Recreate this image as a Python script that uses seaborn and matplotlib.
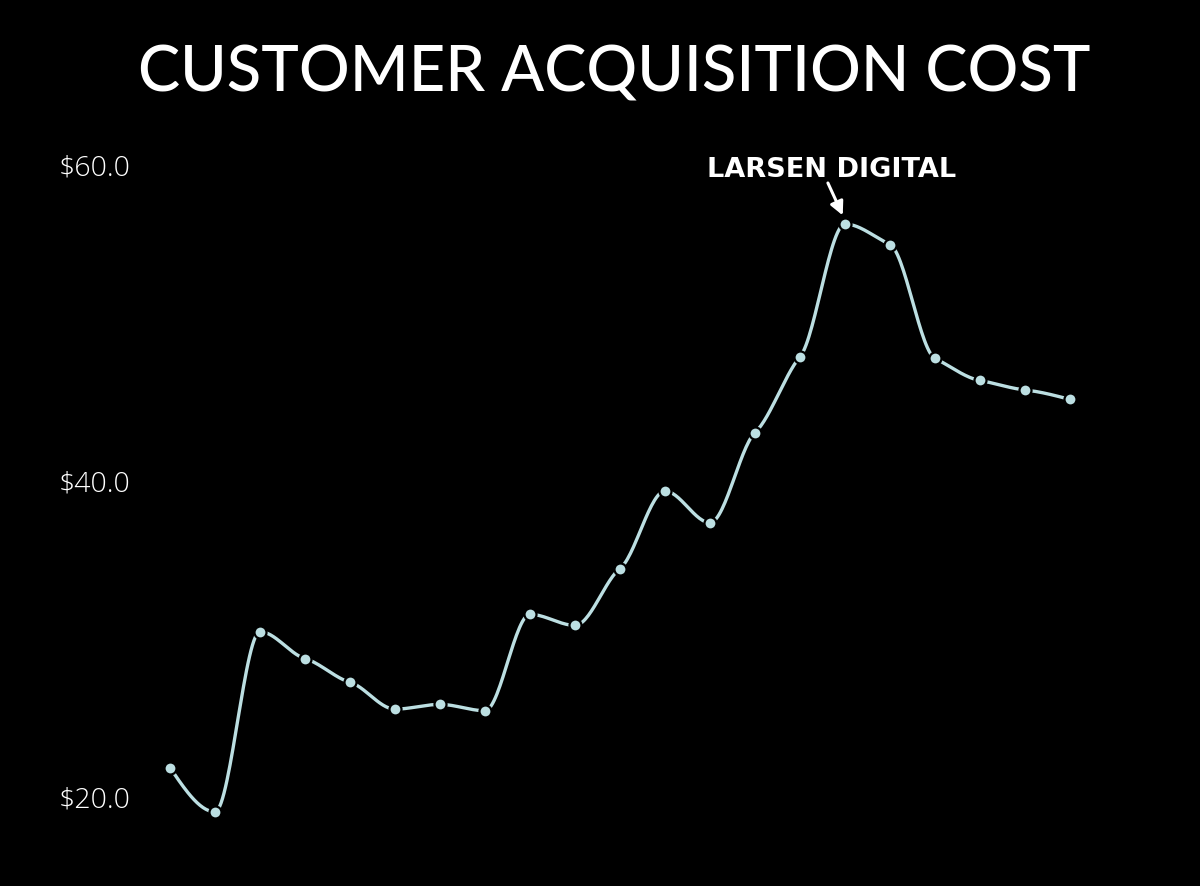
import numpy as np
import pandas as pd
import seaborn as sb
import matplotlib
matplotlib.use("Agg")
import matplotlib.pyplot as plt

# valores (21 puntos, sin etiquetas en x)
periods = list(range(21))
cac = [21.8, 19.0, 30.4, 28.7, 27.2, 25.5, 25.8, 25.4, 31.5, 30.8, 34.4,
       39.3, 37.3, 43.0, 47.8, 56.2, 54.9, 47.7, 46.3, 45.7, 45.1]
y_ticks = [20.0, 40.0, 60.0]
title = "CUSTOMER ACQUISITION COST"
peak_label = "LARSEN DIGITAL"

LINE_COLOR = "#bcdfe2"


def monotone_curve(x, y, steps=30):
    # curva monotona tipo d3 (Fritsch-Carlson) solo para dibujar
    x = np.asarray(x, dtype=float)
    y = np.asarray(y, dtype=float)
    h = np.diff(x)
    s = np.diff(y) / h
    m = np.zeros_like(y)
    for i in range(1, len(y) - 1):
        if s[i - 1] * s[i] <= 0:
            m[i] = 0
        else:
            p = (s[i - 1] * h[i] + s[i] * h[i - 1]) / (h[i - 1] + h[i])
            m[i] = np.sign(s[i]) * min(abs(s[i - 1]), abs(s[i]), 0.5 * abs(p))
    m[0] = (3 * s[0] - m[1]) / 2
    m[-1] = (3 * s[-1] - m[-2]) / 2
    xs, ys = [], []
    for i in range(len(x) - 1):
        t = np.linspace(0, 1, steps, endpoint=False)
        h00 = 2 * t ** 3 - 3 * t ** 2 + 1
        h10 = t ** 3 - 2 * t ** 2 + t
        h01 = -2 * t ** 3 + 3 * t ** 2
        h11 = t ** 3 - t ** 2
        xs.extend(x[i] + t * h[i])
        ys.extend(h00 * y[i] + h10 * h[i] * m[i] + h01 * y[i + 1] + h11 * h[i] * m[i + 1])
    xs.append(x[-1])
    ys.append(y[-1])
    return np.array(xs), np.array(ys)


sb.set_theme(style="dark", rc={"axes.facecolor": "black", "figure.facecolor": "black"})
plt.rcParams['font.family'] = ['Open Sans', 'DejaVu Sans']

fig = plt.figure(figsize=(12, 8.87), dpi=100)
ax = fig.add_axes([147.5 / 1200, 0.0658, 945 / 1200, 0.7838])

cx, cy = monotone_curve(periods, cac)
curve = pd.DataFrame({"x": cx, "y": cy})
points = pd.DataFrame({"x": periods, "y": cac})

sb.lineplot(data=curve, x="x", y="y", ax=ax, color=LINE_COLOR, linewidth=2.4, sort=False)
sb.scatterplot(data=points, x="x", y="y", ax=ax, color=LINE_COLOR, s=75,
               edgecolor="black", linewidth=1.6, zorder=5)

ax.set_xlim(-0.5, 20.5)
ax.set_ylim(18, 62)
ax.set_yticks(y_ticks)
ax.set_yticklabels([f"${v:.1f}" for v in y_ticks], color="white", fontsize=20.5,
                   fontweight="light")
ax.set_xticks([])
ax.set_xlabel("")
ax.set_ylabel("")
ax.tick_params(axis="y", length=0, pad=12.5)
ax.grid(False)
for spine in ax.spines.values():
    spine.set_visible(False)

# etiqueta y flecha del pico
peak = int(np.argmax(cac))
ax.annotate("", xy=(periods[peak] - 0.05, cac[peak] + 0.55),
            xytext=(periods[peak] - 0.38, cac[peak] + 2.6),
            arrowprops=dict(arrowstyle="-|>", color="white", lw=2.2, mutation_scale=20,
                            shrinkA=0, shrinkB=0))
ax.text(periods[peak] - 0.3, cac[peak] + 3.5, peak_label, ha="center", va="center",
        color="white", fontsize=19.5, fontweight="bold", family=["DejaVu Sans"])

fig.text(0.512, 0.917, title, ha="center", va="center", color="white",
         fontsize=45.5, fontweight="medium", family=["Lato", "DejaVu Sans"])

fig.savefig("out.png", dpi=100, facecolor="black")
